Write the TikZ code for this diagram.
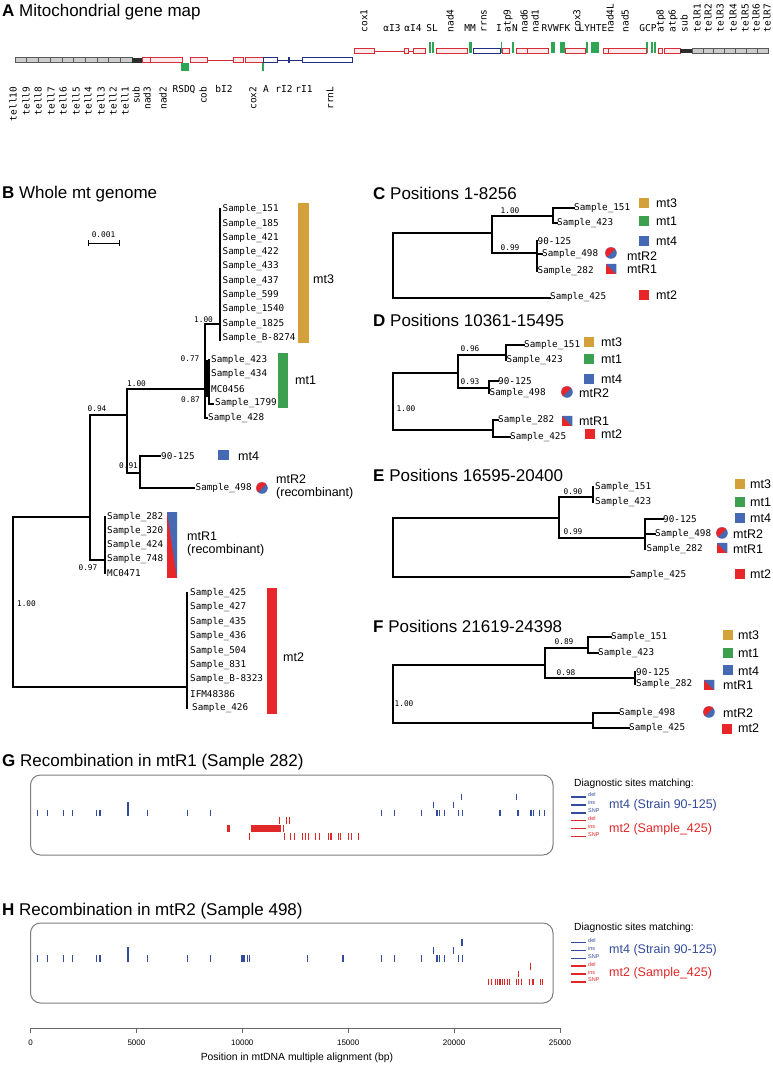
\documentclass[tikz,border=0pt]{standalone}
\usepackage{fontspec}
\setmainfont{Liberation Sans}
\setmonofont{DejaVu Sans Mono}
\definecolor{cgold}{RGB}{212,160,58}
\definecolor{cgreen}{RGB}{60,160,80}
\definecolor{cblue}{RGB}{70,105,180}
\definecolor{cred}{RGB}{232,38,42}
\definecolor{tblue}{RGB}{50,75,155}
\definecolor{tred}{RGB}{225,40,40}
\definecolor{gmred}{RGB}{215,45,55}
\definecolor{gmblue}{RGB}{35,45,130}
\definecolor{gmgreen}{RGB}{45,165,85}
\definecolor{boxgray}{RGB}{125,125,125}
\newcommand\ttlfont{\fontsize{17}{20}\selectfont}
\newcommand\smpfont{\fontsize{9.3}{11}\selectfont\ttfamily}
\newcommand\supfont{\fontsize{7.8}{9}\selectfont\ttfamily}
\newcommand\gmfont{\fontsize{9.5}{11}\selectfont\ttfamily}
\newcommand\legfont{\fontsize{12.5}{14}\selectfont}
\tikzset{
 smp/.style={anchor=west, inner sep=0pt, font=\smpfont},
 supp/.style={inner sep=0pt, font=\supfont},
 gml/.style={inner sep=0pt, font=\gmfont},
 gmrot/.style={gml, rotate=90},
 leg/.style={anchor=west, inner sep=0pt, font=\legfont},
 ttl/.style={anchor=base west, inner sep=0pt, font=\ttlfont},
 br/.style={line width=1.1pt, line cap=rect},
 sqr/.style={rectangle, minimum width=10.5pt, minimum height=10.5pt, inner sep=0pt},
 pie/.style={circle, minimum size=11.5pt, inner sep=0pt, fill=cblue,
   path picture={\fill[cred] (path picture bounding box.north east) -- (path picture bounding box.south west) -- (path picture bounding box.north west) -- cycle;}},
 splitsq/.style={sqr, fill=cred,
   path picture={\fill[cblue] (path picture bounding box.north west) -- (path picture bounding box.north east) -- (path picture bounding box.south east) -- cycle;}},
 rgene/.style={draw=gmred, fill=gmred!10, line width=0.8pt},
 bgene/.style={draw=gmblue, fill=white, line width=0.8pt},
 rline/.style={draw=gmred, line width=0.9pt},
 bline/.style={draw=gmblue, line width=0.9pt},
 trna/.style={draw=gmgreen, line width=1.05pt},
 telseg/.style={draw=gray!70!black, fill=gray!40, line width=0.5pt},
 subgray/.style={fill=gray!35!black},
 bt/.style={draw=tblue, line width=1.1pt},
 rt/.style={draw=tred, line width=1.1pt},
 lgl/.style={line width=1.5pt},
 lgs/.style={anchor=west, inner sep=0pt, font=\fontsize{5.5}{6}\selectfont},
 rbox/.style={draw=boxgray, line width=1pt, rounded corners=10pt},
 diag/.style={anchor=west, inner sep=0pt, font=\fontsize{10.3}{12}\selectfont},
}
\begin{document}
\begin{tikzpicture}[x=1pt,y=-1pt]
\useasboundingbox (0,0) rectangle (773,1066);
\fill[white] (0,0) rectangle (773,1066);

% ---------- titles
\node[ttl] (tA) at (2,16) {\textbf{A} Mitochondrial gene map};
\node[ttl] (tB) at (2,198) {\textbf{B} Whole mt genome};
\node[ttl] (tC) at (373,199) {\textbf{C} Positions 1-8256};
\node[ttl] (tD) at (373,326) {\textbf{D} Positions 10361-15495};
\node[ttl] (tE) at (373,481) {\textbf{E} Positions 16595-20400};
\node[ttl] (tF) at (373,632) {\textbf{F} Positions 21619-24398};
\node[ttl] (tG) at (2,766) {\textbf{G} Recombination in mtR1 (Sample 282)};
\node[ttl] (tH) at (2,915) {\textbf{H} Recombination in mtR2 (Sample 498)};

% ---------- A: gene map, lower row
\foreach \i in {0,...,9} \draw[telseg] ({15+\i*11.7},57.5) rectangle ({26.7+\i*11.7},62.5);
\fill[subgray] (132,57.5) rectangle (142,62.5);
\foreach \x in {182,184,186,188,263} \draw[trna] (\x,62.5) -- (\x,71);
\draw[rline] (207,60) -- (233,60);
\foreach \a/\b in {142/150,150/182,190/207,233/243,245/263} \draw[rgene] (\a,57.5) rectangle (\b,62.5);
\draw[bline] (277,60) -- (302,60);
\draw[bline, line width=1.4pt] (289,57) -- (289,63);
\foreach \a/\b in {263/277,302/352} \draw[bgene] (\a,57.5) rectangle (\b,62.5);
% upper row
\draw[rline] (374,51) -- (404,51);
\draw[rline] (408,51) -- (413,51);
\foreach \x in {430,433,470,471.5,501.5,513,552,554,561,562.5,564,587,592,594,596,598,647,652,655} \draw[trna] (\x,42) -- (\x,53.3);
\foreach \a/\b in {354/374,404/408,413/425,436/467,502.5/509,516/527,527/548,565.5/585,603/608,608/646,658/662.5,664/680} \draw[rgene] (\a,48.7) rectangle (\b,53.3);
\draw[bgene] (473,48.7) rectangle (500,53.3);
\fill[subgray] (680,48.7) rectangle (692,53.3);
\foreach \i in {0,...,6} \draw[telseg] ({692+\i*10.86},48.7) rectangle ({702.86+\i*10.86},53.3);
% gene labels
\foreach \t/\x [count=\i] in {tell10/13,tell9/26,tell8/38,tell7/51,tell6/63,tell5/76,tell4/88,tell3/101,tell2/113,tell1/125,sub/136,nad3/147,nad2/163,cob/203,cox2/253,rrnL/330}
  \node[gmrot, anchor=east] (gb\i) at (\x,86.5) {\t};
\foreach \t/\x [count=\i] in {RSDQ/184,bI2/224,A/266,rI2/284,rI1/304}
  \node[gml, anchor=north] (gh\i) at (\x,85.5) {\t};
\foreach \t/\x [count=\i] in {cox1/364,nad4/450,rrns/484,atp9/508,nad6/524,nad1/535,cox3/577,nad4L/610,nad5/625,atp8/661,atp6/673,sub/684,telR1/697,telR2/708,telR3/720,telR4/733,telR5/745,telR6/756,telR7/767}
  \node[gmrot, anchor=west] (gt\i) at (\x,32.5) {\t};
\foreach \t/\x [count=\i] in {αI3/392,αI4/413,SL/432,MM/470,I/499,N/515,RVWFK/556,LYHTE/593,GCP/648}
  \node[gml, anchor=base] (gu\i) at (\x,31) {\t};

% ---------- B: whole genome tree
\node[supp] (bs1) at (203.5,320) {1.00};
\node[supp] (bs2) at (190,359) {0.77};
\node[supp] (bs3) at (190.5,400) {0.87};
\node[supp] (bs4) at (136.5,384) {1.00};
\node[supp] (bs5) at (97,409) {0.94};
\node[supp] (bs6) at (128.5,466) {0.91};
\node[supp] (bs7) at (88,568) {0.97};
\node[supp] (bs8) at (26.5,604) {1.00};
\node[supp] (bscale) at (103.5,235) {0.001};
\draw[line width=1pt] (88,243) -- (119,243);
\draw[line width=1pt] (88,240) -- (88,246);
\draw[line width=1pt] (119,240) -- (119,246);

\draw[br] (13,517) -- (13,687);
\draw[br] (13,517) -- (90,517);
\draw[br] (13,687) -- (187,687);
\draw[br] (90,415) -- (90,560);
\draw[br] (90,415) -- (127,415);
\draw[br] (90,560) -- (105,560);
\draw[br] (127,389) -- (127,473);
\draw[br] (127,389) -- (205,389);
\draw[br] (127,473) -- (140,473);
\draw[br] (140,456) -- (140,488);
\draw[br] (140,456) -- (160,456);
\draw[br] (140,488) -- (194,488);
\draw[br] (205,324) -- (205,418);
\draw[br] (205,324) -- (220,324);
\draw[br] (205,418) -- (207,418);
\draw[line width=2.4pt] (206.5,360) -- (206.5,397);
\draw[br] (209,360) -- (209,404);
\draw[br] (209,404) -- (213,404);
\draw[br] (220,209) -- (220,340);
\draw[br] (105,517) -- (105,573);
\draw[br] (187,593) -- (187,708);

\foreach \n [count=\i] in {Sample\_151,Sample\_185,Sample\_421,Sample\_422,Sample\_433,Sample\_437,Sample\_599,Sample\_1540,Sample\_1825,Sample\_B-8274}
  \node[smp] (bmt3\i) at (222.5,{209.3+(\i-1)*14.3}) {\n};
\node[smp] (bmt1a) at (211,360) {Sample\_423};
\node[smp] (bmt1b) at (211,374.5) {Sample\_434};
\node[smp] (bmt1c) at (211,389.5) {MC0456};
\node[smp] (bmt1d) at (215,403.5) {Sample\_1799};
\node[smp] (bmt1e) at (208,418) {Sample\_428};
\node[smp] (bm4) at (161,456) {90-125};
\node[smp] (bR2) at (195.5,488) {Sample\_498};
\foreach \n [count=\i] in {Sample\_282,Sample\_320,Sample\_424,Sample\_748,MC0471}
  \node[smp] (bR1\i) at (107,{517+(\i-1)*14}) {\n};
\foreach \n [count=\i] in {Sample\_425,Sample\_427,Sample\_435,Sample\_436,Sample\_504,Sample\_831,Sample\_B-8323,IFM48386}
  \node[smp] (bmt2\i) at (190,{593+(\i-1)*14.4}) {\n};
\node[smp] (bmt29) at (192,708) {Sample\_426};

\node[sqr, fill=cgold, minimum width=11pt, minimum height=140pt] (barmt3) at (303.5,273) {};
\node[leg] (lbmt3) at (313,279) {mt3};
\node[sqr, fill=cgreen, minimum width=10pt, minimum height=55pt] (barmt1) at (283,380.5) {};
\node[leg] (lbmt1) at (295,380) {mt1};
\node[sqr, fill=cblue, minimum width=11pt, minimum height=10pt] (sqbmt4) at (223.5,455) {};
\node[leg] (lbmt4) at (238,456) {mt4};
\node[pie] (pbR2) at (262,488) {};
\node[leg] (lbR2a) at (276,479) {mtR2};
\node[leg] (lbR2b) at (276,493) {(recombinant)};
\node[splitsq, minimum width=10pt, minimum height=66pt] (barR1) at (172,545) {};
\node[leg] (lbR1a) at (187,536) {mtR1};
\node[leg] (lbR1b) at (187,550) {(recombinant)};
\node[sqr, fill=cred, minimum width=10pt, minimum height=126pt] (barmt2) at (272,651) {};
\node[leg] (lbmt2) at (283,657) {mt2};

% ---------- C
\draw[br] (393,233) -- (393,298);
\draw[br] (393,233) -- (492,233);
\draw[br] (393,298) -- (550,298);
\draw[br] (492,216) -- (492,253);
\draw[br] (492,216) -- (553,216);
\draw[br] (492,253) -- (537,253);
\draw[br] (553,208) -- (553,223);
\draw[br] (553,208) -- (574,208);
\draw[br] (553,223) -- (557,223);
\draw[br] (537,241) -- (537,271);
\draw[br] (537,254) -- (542,254);
\node[supp] (cs1) at (510,211) {1.00};
\node[supp] (cs2) at (510,248) {0.99};
\node[smp] (cl1) at (574,208) {Sample\_151};
\node[smp] (cl2) at (557,223) {Sample\_423};
\node[smp] (cl3) at (537.5,241) {90-125};
\node[smp] (cl4) at (542,254) {Sample\_498};
\node[smp] (cl5) at (537.5,271) {Sample\_282};
\node[smp] (cl6) at (550,297) {Sample\_425};
\node[sqr, fill=cgold] (cq1) at (644,203) {};
\node[sqr, fill=cgreen] (cq2) at (644,221) {};
\node[sqr, fill=cblue] (cq3) at (644,241) {};
\node[pie] (cq4) at (611,253) {};
\node[splitsq] (cq5) at (611,269) {};
\node[sqr, fill=cred] (cq6) at (644,295) {};
\node[leg] (cg1) at (656,203) {mt3};
\node[leg] (cg2) at (656,221) {mt1};
\node[leg] (cg3) at (656,241) {mt4};
\node[leg] (cg4) at (627,256) {mtR2};
\node[leg] (cg5) at (627,269) {mtR1};
\node[leg] (cg6) at (656,295) {mt2};

% ---------- D
\draw[br] (393,373) -- (393,430);
\draw[br] (393,373) -- (458,373);
\draw[br] (393,430) -- (493,430);
\draw[br] (458,355) -- (458,388);
\draw[br] (458,355) -- (506,355);
\draw[br] (458,388) -- (489,388);
\draw[br] (506,345) -- (506,360);
\draw[br] (506,345) -- (524,345);
\draw[br] (489,381) -- (489,393);
\draw[br] (489,381) -- (498,381);
\draw[br] (493,420) -- (493,437);
\draw[br] (493,420) -- (498,420);
\draw[br] (493,437) -- (510,437);
\node[supp] (ds1) at (470,349) {0.96};
\node[supp] (ds2) at (470,382) {0.93};
\node[supp] (ds3) at (406,409) {1.00};
\node[smp] (dl1) at (524,345) {Sample\_151};
\node[smp] (dl2) at (506.5,360) {Sample\_423};
\node[smp] (dl3) at (498,381) {90-125};
\node[smp] (dl4) at (489.5,393) {Sample\_498};
\node[smp] (dl5) at (498,420) {Sample\_282};
\node[smp] (dl6) at (510,437) {Sample\_425};
\node[sqr, fill=cgold] (dq1) at (589,342) {};
\node[sqr, fill=cgreen] (dq2) at (589,359) {};
\node[sqr, fill=cblue] (dq3) at (589,379) {};
\node[pie] (dq4) at (567,392) {};
\node[splitsq] (dq5) at (567,421) {};
\node[sqr, fill=cred] (dq6) at (590,434) {};
\node[leg] (dg1) at (601,342) {mt3};
\node[leg] (dg2) at (601,359) {mt1};
\node[leg] (dg3) at (601,379) {mt4};
\node[leg] (dg4) at (579,393) {mtR2};
\node[leg] (dg5) at (579,421) {mtR1};
\node[leg] (dg6) at (601,434) {mt2};

% ---------- E
\draw[br] (393,518) -- (393,577);
\draw[br] (393,518) -- (559,518);
\draw[br] (393,577) -- (630,577);
\draw[br] (559,497) -- (559,538);
\draw[br] (559,497) -- (593,497);
\draw[br] (559,538) -- (645,538);
\draw[br] (593,487) -- (593,502);
\draw[br] (645,519) -- (645,549);
\draw[br] (645,519) -- (663,519);
\draw[br] (645,534) -- (655,534);
\node[supp] (es1) at (573,492) {0.90};
\node[supp] (es2) at (573,532) {0.99};
\node[smp] (el1) at (595,487) {Sample\_151};
\node[smp] (el2) at (595,502) {Sample\_423};
\node[smp] (el3) at (663,519) {90-125};
\node[smp] (el4) at (655,534) {Sample\_498};
\node[smp] (el5) at (646.5,549) {Sample\_282};
\node[smp] (el6) at (630,575) {Sample\_425};
\node[sqr, fill=cgold] (eq1) at (740,484) {};
\node[sqr, fill=cgreen] (eq2) at (740,502) {};
\node[sqr, fill=cblue] (eq3) at (740,518) {};
\node[pie] (eq4) at (722,533) {};
\node[splitsq] (eq5) at (722,548) {};
\node[sqr, fill=cred] (eq6) at (740,574) {};
\node[leg] (eg1) at (750,484) {mt3};
\node[leg] (eg2) at (750,502) {mt1};
\node[leg] (eg3) at (750,518) {mt4};
\node[leg] (eg4) at (733,534) {mtR2};
\node[leg] (eg5) at (733,549) {mtR1};
\node[leg] (eg6) at (750,574) {mt2};

% ---------- F
\draw[br] (393,665) -- (393,723);
\draw[br] (393,665) -- (545,665);
\draw[br] (393,723) -- (593,723);
\draw[br] (545,648) -- (545,678);
\draw[br] (545,648) -- (588,648);
\draw[br] (545,678) -- (635,678);
\draw[br] (588,637) -- (588,653);
\draw[br] (588,637) -- (611,637);
\draw[br] (588,653) -- (598,653);
\draw[br] (635,672) -- (635,684);
\draw[br] (593,713) -- (593,728);
\draw[br] (593,713) -- (619,713);
\draw[br] (593,728) -- (629,728);
\node[supp] (fs1) at (564,642) {0.89};
\node[supp] (fs2) at (566,673) {0.98};
\node[supp] (fs3) at (404,704) {1.00};
\node[smp] (fl1) at (611,637) {Sample\_151};
\node[smp] (fl2) at (598,653) {Sample\_423};
\node[smp] (fl3) at (636,672) {90-125};
\node[smp] (fl4) at (636,684) {Sample\_282};
\node[smp] (fl5) at (619,713) {Sample\_498};
\node[smp] (fl6) at (629,728) {Sample\_425};
\node[sqr, fill=cgold] (fq1) at (728,635) {};
\node[sqr, fill=cgreen] (fq2) at (728,653) {};
\node[sqr, fill=cblue] (fq3) at (728,670) {};
\node[splitsq] (fq4) at (709,685) {};
\node[pie] (fq5) at (709,712) {};
\node[sqr, fill=cred] (fq6) at (727,729) {};
\node[leg] (fg1) at (738,635) {mt3};
\node[leg] (fg2) at (738,653) {mt1};
\node[leg] (fg3) at (738,671) {mt4};
\node[leg] (fg4) at (723,685) {mtR1};
\node[leg] (fg5) at (723,713) {mtR2};
\node[leg] (fg6) at (738,728) {mt2};

% ---------- G and H boxes
\draw[rbox] (30.5,775) rectangle (553,855);
\draw[rbox] (30.5,923) rectangle (553,1003);

% legends
\foreach \P/\yd/\ya/\yb/\yc in {G/797/784/805/829, H/942.5/928/950/973}{
  \node[diag] (dg\P) at (574,\ya) {Diagnostic sites matching:};
  \foreach \k/\t [count=\j] in {0/del,1/ins,2/SNP} {
    \draw[lgl, tblue] (571,{\yd+\k*7.9}) -- (586,{\yd+\k*7.9});
    \node[lgs, text=tblue] (lb\P\j) at (588,{\yd+\k*7.9-2}) {\t};
    \draw[lgl, tred] (571,{\yd+(\k+3)*7.9}) -- (586,{\yd+(\k+3)*7.9});
    \node[lgs, text=tred] (lr\P\j) at (588,{\yd+(\k+3)*7.9-2}) {\t};
  }
  \node[leg, text=tblue] (m4\P) at (609,\yb) {mt4 (Strain 90-125)};
  \node[leg, text=tred] (m2\P) at (609,\yc) {mt2 (Sample\_425)};
}

% ticks (positions in kbp)
\begin{scope}[xshift=30.5pt, x=21.18pt]
 % G blue
 \foreach \p in {0.350,0.815,1.537,2.000,3.095,3.280,5.538,7.398,8.513,16.586,17.167,18.446,19.192,19.330,19.562,20.190,20.378,22.167,22.980,23.050,23.631,23.749,24.028,24.283}
   \draw[bt] (\p,809.5) -- (\p,816.1);
 \draw[bt, line width=1.8pt] (4.607,801.6) -- (4.607,816.1);
 \foreach \p in {19.027,19.958} \draw[bt] (\p,801.6) -- (\p,808.2);
 \foreach \p in {20.354,22.937} \draw[bt] (\p,793.7) -- (\p,800.3);
 % G red
 \foreach \p in {11.770,12.096,12.213} \draw[rt] (\p,817.4) -- (\p,824);
 \fill[tred] (9.26,825.3) rectangle (9.42,831.9);
 \fill[tred] (10.42,825.3) rectangle (11.82,831.9);
 \draw[rt] (11.956,825.3) -- (11.956,831.9);
 \foreach \p in {10.352,11.980,12.283,12.446,12.842,12.980,13.144,13.445,13.630,14.073,14.190,14.538,14.655,15.004,15.143,15.492}
   \draw[rt] (\p,833.2) -- (\p,839.8);
 % H blue
 \foreach \p in {0.350,0.815,1.537,2.000,3.095,3.280,5.538,7.398,8.513,9.960,10.020,10.080,10.260,10.330,13.097,14.730,14.780,16.586,17.167,18.446,19.192,19.330,19.562,20.190,20.378}
   \draw[bt] (\p,955) -- (\p,961.6);
 \draw[bt, line width=1.8pt] (4.607,947.1) -- (4.607,961.6);
 \foreach \p in {19.027,19.958} \draw[bt] (\p,947.1) -- (\p,953.7);
 \draw[bt, line width=1.8pt] (20.354,939.2) -- (20.354,945.8);
 % H red
 \draw[rt] (23.607,962.9) -- (23.607,969.5);
 \draw[rt, line width=1.8pt] (23.04,970.8) -- (23.04,977.4);
 \foreach \p in {21.633,21.771,21.936,22.050,22.168,22.286,22.400,22.517,22.635,22.936,23.025,23.168,23.564,23.725,24.074,24.192}
   \draw[rt] (\p,978.7) -- (\p,985.3);
 % axis
 \draw[gray!80!black, line width=0.6pt] (0,1028) -- (25,1028);
 \foreach \v/\t [count=\i] in {0/0,5/5000,10/10000,15/15000,20/20000,25/25000}{
   \draw[gray!80!black, line width=0.6pt] (\v,1028) -- (\v,1033);
   \node[inner sep=0pt, font=\fontsize{8}{9}\selectfont] (ax\i) at (\v,1043) {\t};
 }
\end{scope}
\node[inner sep=0pt, font=\fontsize{10.4}{12}\selectfont] (axt) at (297,1058) {Position in mtDNA multiple alignment (bp)};
\end{tikzpicture}
\end{document}
